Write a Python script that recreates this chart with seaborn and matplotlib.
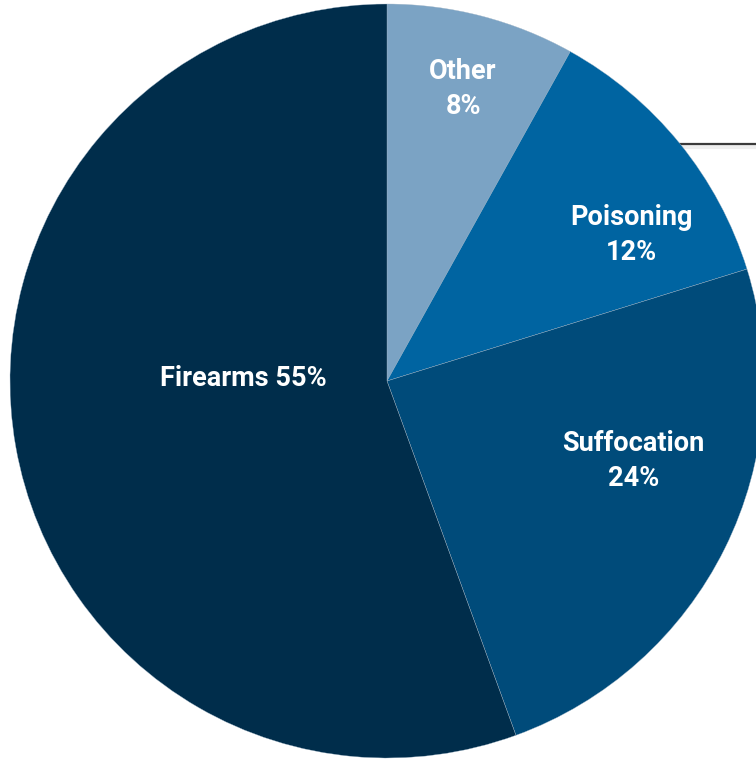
import matplotlib
matplotlib.use("Agg")
import matplotlib.pyplot as plt
import numpy as np
import seaborn as sns

# ---------------------------------------------------------------------------
# Data
# ---------------------------------------------------------------------------
categories = ["Other", "Poisoning", "Suffocation", "Firearms"]
shares = [8, 12, 24, 55]
label_texts = ["Other\n8%", "Poisoning\n12%", "Suffocation\n24%", "Firearms 55%"]

# slice colours, same order as categories
colours = ["#7ba3c4", "#0064a1", "#004b7a", "#002d4b"]

# label anchor as (radius fraction, angle in degrees)
label_polar = [(0.80, 75.4), (0.756, 30.8), (0.687, -18.0), (0.382, 179.2)]

sns.set_theme(style="white")
plt.rcParams["font.family"] = ["Roboto", "DejaVu Sans"]

W, H, DPI = 756, 761, 100
fig = plt.figure(figsize=(W / DPI, H / DPI), dpi=DPI)
ax = fig.add_axes([0, 0, 1, 1])

wedges, _ = ax.pie(
    shares,
    colors=colours,
    startangle=90,
    counterclock=False,
    radius=1.0,
    wedgeprops=dict(edgecolor="#9fb4c6", linewidth=0.25),
)

for txt, (r, ang) in zip(label_texts, label_polar):
    a = np.deg2rad(ang)
    ax.text(r * np.cos(a), r * np.sin(a), txt, color="white",
            fontsize=19.5, fontweight="bold", ha="center", va="center",
            linespacing=1.4)

# frame the pie the way the source crop does (centre at 387, 381 px; R = 377 px)
R_px, cx, cy = 377.0, 387.0, 381.0
ax.set_xlim(-cx / R_px, (W - cx) / R_px)
ax.set_ylim(-(H - cy) / R_px, cy / R_px)
ax.set_aspect("equal")
ax.axis("off")

# stray rule line at the right edge of the source image
ax.plot([678 / W, 1.0], [1 - 147 / H, 1 - 147 / H], transform=ax.transAxes,
        color="#eeeeee", linewidth=3, zorder=0)
ax.plot([678 / W, 1.0], [1 - 144 / H, 1 - 144 / H], transform=ax.transAxes,
        color="#3a3a3a", linewidth=1.6, zorder=0)

fig.savefig("out.png", dpi=DPI, facecolor="white")
plt.close(fig)
